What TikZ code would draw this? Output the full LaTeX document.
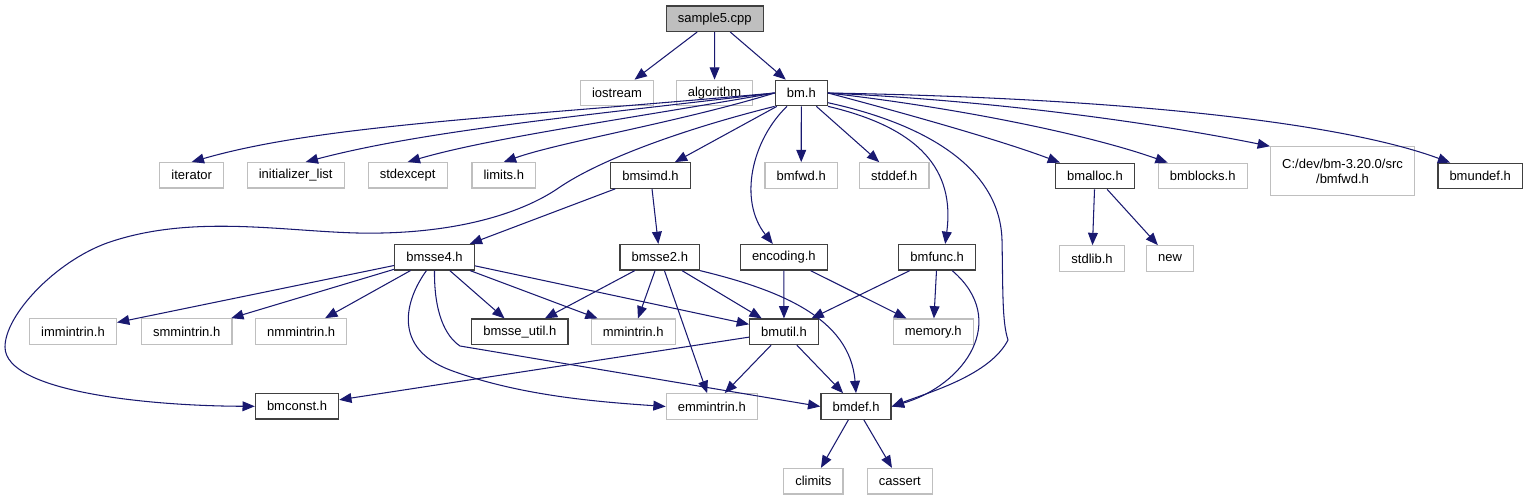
\documentclass[tikz,border=0pt]{standalone}
\usepackage{fontspec}
\setmainfont{Liberation Sans}
\usetikzlibrary{arrows.meta,calc}
\definecolor{edgeblue}{RGB}{25,25,112}
\definecolor{extgray}{RGB}{191,191,191}

\begin{document}
\begin{tikzpicture}[x=0.02cm,y=-0.02cm,>={Triangle[length=7pt,width=5.6pt]},
  file/.style={draw=black!75,line width=0.7pt,fill=white,
    font=\fontsize{7.4}{8.6}\selectfont,inner xsep=6.6pt,inner ysep=0pt,
    minimum height=14.5pt},
  ext/.style={file,draw=extgray},
  inc/.style={->,draw=edgeblue,fill=none,line width=0.6pt}]
\useasboundingbox (0,0) rectangle (1527,500);

% rank 0-1
\node[file,fill=extgray] (sample) at (714.7,18.7) {sample5.cpp};
\node[ext] (iostream) at (617,93) {iostream};
\node[ext] (algorithm) at (714.5,93) {algorithm};
\node[file] (bm) at (801.3,93) {bm.h};

% rank 2
\node[ext] (iterator) at (191.7,175.3) {iterator};
\node[ext] (initlist) at (295.7,175.3) {initializer\_list};
\node[ext] (stdexcept) at (407.7,175.3) {stdexcept};
\node[ext] (limits) at (503.8,175.3) {limits.h};
\node[file] (bmsimd) at (650.5,175.5) {bmsimd.h};
\node[ext] (bmfwd) at (801.2,175.5) {bmfwd.h};
\node[ext] (stddef) at (894.3,175.5) {stddef.h};
\node[file] (bmalloc) at (1095,176) {bmalloc.h};
\node[ext] (bmblocks) at (1202.7,176) {bmblocks.h};
\node[ext,align=center,minimum height=27.8pt] (cfwd) at (1342.5,171.3)
  {C:/dev/bm-3.20.0/src\\/bmfwd.h};
\node[file] (bmundef) at (1480.2,176) {bmundef.h};

% rank 3
\node[file] (bmsse4) at (434.5,257.2) {bmsse4.h};
\node[file] (bmsse2) at (659.8,257.3) {bmsse2.h};
\node[file] (encoding) at (783.8,257.3) {encoding.h};
\node[file] (bmfunc) at (937.2,257.3) {bmfunc.h};
\node[ext] (stdlib) at (1092,258.5) {stdlib.h};
\node[ext] (new) at (1170,258.5) {new};

% rank 4
\node[ext] (immintrin) at (73,331.5) {immintrin.h};
\node[ext] (smmintrin) at (186.7,331.5) {smmintrin.h};
\node[ext] (nmmintrin) at (301.2,331.5) {nmmintrin.h};
\node[file] (bmsseutil) at (519.8,331.8) {bmsse\_util.h};
\node[ext] (mmintrin) at (633.2,331.8) {mmintrin.h};
\node[file] (bmutil) at (784,331.8) {bmutil.h};
\node[ext] (memory) at (933.2,331.8) {memory.h};

% rank 5-6
\node[file] (bmconst) at (297,406.3) {bmconst.h};
\node[ext] (emmintrin) at (711.8,406.5) {emmintrin.h};
\node[file] (bmdef) at (856,406.5) {bmdef.h};
\node[ext] (climits) at (813.3,481.2) {climits};
\node[ext] (cassert) at (899.8,481.2) {cassert};

% sample5.cpp
\draw[inc] (sample) -- (iostream);
\draw[inc] (sample) -- (algorithm);
\draw[inc] (sample) -- (bm);

% bm.h
\draw[inc] (bm.west) .. controls (500,118) and (320,125) .. (iterator.north);
\draw[inc] (bm.west) .. controls (560,118) and (420,132) .. ($(initlist.north)+(10,0)$);
\draw[inc] (bm.west) .. controls (620,120) and (490,138) .. (stdexcept.north);
\draw[inc] (bm.west) .. controls (680,122) and (560,142) .. (limits.north);
\draw[inc] (bm) -- (bmsimd);
\draw[inc] (bm) -- (bmfwd);
\draw[inc] (bm) -- (stddef);
\draw[inc] (bm.south west) .. controls (680,130) and (600,160) .. (560,187)
  .. controls (520,215) and (450,235) .. (357,233)
  .. controls (280,231) and (190,214) .. (107,243)
  .. controls (55,262) and (5,315) .. (5,347)
  .. controls (5,392) and (150,406) .. (bmconst.west);
\draw[inc] (bm.223) .. controls (752,140) and (738,200) .. ($(encoding.north)+(-11,0)$);
\draw[inc] (bm.south east) .. controls (920,128) and (955,170) .. ($(bmfunc.north)+(8,0)$);
\draw[inc] (bm.-20) .. controls (930,125) and (1000,170) .. (1002,240)
  .. controls (1003,290) and (1002,322) .. (1008,340)
  .. controls (990,375) and (930,392) .. (bmdef.east);
\draw[inc] (bm.east) .. controls (900,112) and (1000,140) .. ($(bmalloc.north)+(-35,0)$);
\draw[inc] (bm.east) .. controls (960,108) and (1090,135) .. ($(bmblocks.north)+(-35,0)$);
\draw[inc] (bm.east) .. controls (1020,102) and (1180,128) .. (cfwd.north west);
\draw[inc] (bm.east) .. controls (1120,98) and (1340,122) .. ($(bmundef.north)+(-30,0)$);

% bmsimd.h
\draw[inc] (bmsimd) -- (bmsse4);
\draw[inc] (bmsimd) -- (bmsse2);

% bmsse4.h
\draw[inc] (bmsse4) -- (immintrin);
\draw[inc] (bmsse4) -- (smmintrin);
\draw[inc] (bmsse4) -- (nmmintrin);
\draw[inc] (bmsse4) -- (bmsseutil);
\draw[inc] (bmsse4) -- (mmintrin);
\draw[inc] (bmsse4) -- (bmutil);
\draw[inc] ($(bmsse4.south)+(-8,0)$) .. controls (405,300) and (392,348) .. (450,370)
  .. controls (520,396) and (600,402) .. (emmintrin.west);
\draw[inc] (bmsse4.south) .. controls (434,312) and (445,336) .. (460,346)
  -- (bmdef.west);

% bmsse2.h
\draw[inc] (bmsse2) -- (bmsseutil);
\draw[inc] (bmsse2) -- (mmintrin);
\draw[inc] (bmsse2) -- (bmutil);
\draw[inc] (bmsse2) -- (emmintrin);
\draw[inc] (bmsse2.south east) .. controls (780,290) and (850,318) .. (bmdef.north);

% encoding.h, bmfunc.h
\draw[inc] (encoding) -- (bmutil);
\draw[inc] (encoding) -- (memory);
\draw[inc] (bmfunc) -- (bmutil);
\draw[inc] (bmfunc) -- (memory);
\draw[inc] ($(bmfunc.south)+(15,0)$) .. controls (1010,320) and (965,385) .. (bmdef.east);

% bmutil.h
\draw[inc] (bmutil) -- (bmconst);
\draw[inc] (bmutil) -- (emmintrin);
\draw[inc] (bmutil) -- (bmdef);

% bmalloc.h, bmdef.h
\draw[inc] (bmalloc) -- (stdlib);
\draw[inc] (bmalloc) -- (new);
\draw[inc] (bmdef) -- (climits);
\draw[inc] (bmdef) -- (cassert);
\end{tikzpicture}
\end{document}
